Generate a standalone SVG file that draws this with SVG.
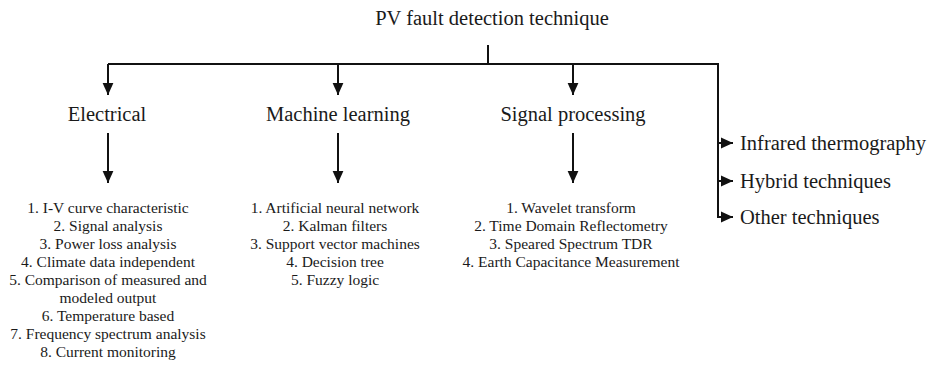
<svg xmlns="http://www.w3.org/2000/svg" width="932" height="365" viewBox="0 0 932 365">
<style>
.t{font-family:"Liberation Serif","Times New Roman",serif;fill:#1a1a1a}
.h{font-size:20.5px}
.l{font-size:15.5px;text-anchor:middle}
.c{text-anchor:middle}
.ln{stroke:#111;stroke-width:2;fill:none}
</style>
<defs>
<marker id="ah" viewBox="0 0 10 10" refX="10" refY="5" markerWidth="6" markerHeight="6" markerUnits="userSpaceOnUse" orient="auto">
<path d="M0,0 L10,5 L0,10 z" fill="#111"/>
</marker>
<marker id="ahb" viewBox="0 0 10 10" refX="10" refY="5" markerWidth="12" markerHeight="12" markerUnits="userSpaceOnUse" orient="auto">
<path d="M0,0.5 L10,5 L0,9.5 z" fill="#111"/>
</marker>
</defs>
<rect width="932" height="365" fill="#fff"/>
<g id="connectors">
<path class="ln" d="M488,45 V64"/>
<path class="ln" d="M108,64 H718 V217"/>
<path class="ln" d="M108,64 V95" marker-end="url(#ahb)"/>
<path class="ln" d="M338,64 V95" marker-end="url(#ahb)"/>
<path class="ln" d="M573,64 V95" marker-end="url(#ahb)"/>
<path class="ln" d="M108,133 V183" marker-end="url(#ahb)"/>
<path class="ln" d="M338,133 V183" marker-end="url(#ahb)"/>
<path class="ln" d="M573,133 V183" marker-end="url(#ahb)"/>
<path class="ln" d="M718,143 H733" marker-end="url(#ahb)"/>
<path class="ln" d="M718,181 H733" marker-end="url(#ahb)"/>
<path class="ln" d="M717,217 H733" marker-end="url(#ahb)"/>
</g>
<g id="root"><text class="t h c" x="492" y="25">PV fault detection technique</text></g>
<g id="electrical"><text class="t h c" x="107" y="121">Electrical</text></g>
<g id="machine-learning"><text class="t h c" x="338" y="121">Machine learning</text></g>
<g id="signal-processing"><text class="t h c" x="573" y="121">Signal processing</text></g>
<g id="infrared"><text class="t h" x="740" y="150">Infrared thermography</text></g>
<g id="hybrid"><text class="t h" x="740" y="188">Hybrid techniques</text></g>
<g id="other"><text class="t h" x="740" y="224">Other techniques</text></g>
<g id="electrical-list">
<text class="t l" x="108" y="213">1. I-V curve characteristic</text>
<text class="t l" x="108" y="231">2. Signal analysis</text>
<text class="t l" x="108" y="249">3. Power loss analysis</text>
<text class="t l" x="108" y="267">4. Climate data independent</text>
<text class="t l" x="108" y="285">5. Comparison of measured and</text>
<text class="t l" x="108" y="303">modeled output</text>
<text class="t l" x="108" y="321">6. Temperature based</text>
<text class="t l" x="108" y="339">7. Frequency spectrum analysis</text>
<text class="t l" x="108" y="357">8. Current monitoring</text>
</g>
<g id="ml-list">
<text class="t l" x="335" y="213">1. Artificial neural network</text>
<text class="t l" x="335" y="231">2. Kalman filters</text>
<text class="t l" x="335" y="249">3. Support vector machines</text>
<text class="t l" x="335" y="267">4. Decision tree</text>
<text class="t l" x="335" y="285">5. Fuzzy logic</text>
</g>
<g id="sp-list">
<text class="t l" x="571" y="213">1. Wavelet transform</text>
<text class="t l" x="571" y="231">2. Time Domain Reflectometry</text>
<text class="t l" x="571" y="249">3. Speared Spectrum TDR</text>
<text class="t l" x="571" y="267">4. Earth Capacitance Measurement</text>
</g>
</svg>
